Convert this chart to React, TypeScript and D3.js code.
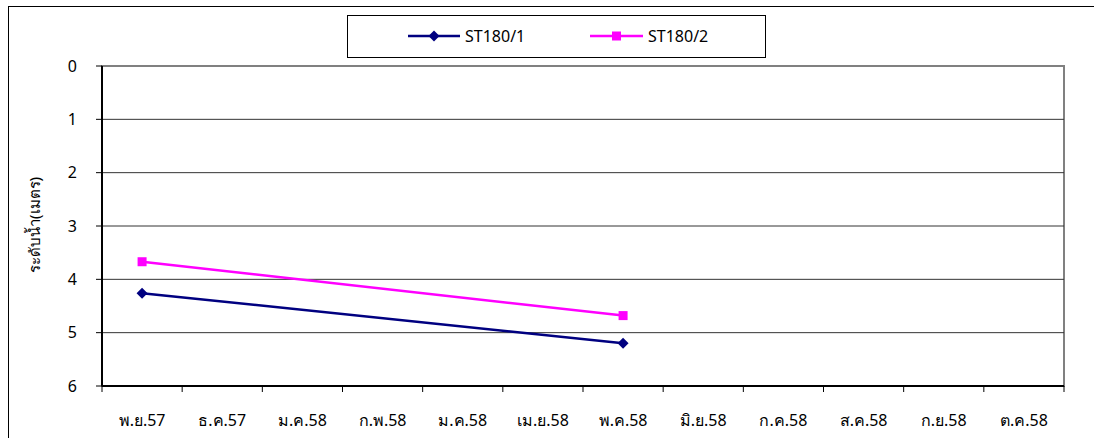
import React from "react";
import * as d3 from "d3";

const categories = ["พ.ย.57", "ธ.ค.57", "ม.ค.58", "ก.พ.58", "ม.ค.58", "เม.ย.58", "พ.ค.58", "มิ.ย.58", "ก.ค.58", "ส.ค.58", "ก.ย.58", "ต.ค.58"];
const yTicks = [0, 1, 2, 3, 4, 5, 6];
const seriesNames = ["ST180/1", "ST180/2"];
const st1801: (number | null)[] = [4.26, null, null, null, null, null, 5.2, null, null, null, null, null];
const st1802: (number | null)[] = [3.67, null, null, null, null, null, 4.68, null, null, null, null, null];
const yTitle = "ระดับน้ำ(เมตร)";

const W = 1094, H = 438;
const plot = { left: 102, top: 66, right: 1064, bottom: 386 };
const FONT = "Tahoma, 'Noto Sans', 'DejaVu Sans', sans-serif";
const DIAMOND = "M0,-5.5L5.5,0L0,5.5L-5.5,0Z";

export default function App() {
  const x = d3.scaleBand<string>().domain(categories.map((_, i) => String(i))).range([plot.left, plot.right]);
  const y = d3.scaleLinear().domain([0, 6]).range([plot.top, plot.bottom]);
  const cx = (i: number) => (x(String(i)) as number) + x.bandwidth() / 2;
  const line = d3.line<[number, number | null]>()
    .defined((d) => d[1] !== null)
    .x((d) => cx(d[0]))
    .y((d) => y(d[1] as number));
  const toPts = (arr: (number | null)[]) => arr.map((v, i) => [i, v] as [number, number | null]).filter((d) => d[1] !== null);
  const s1 = toPts(st1801);
  const s2 = toPts(st1802);
  const navy = "#000080";
  const pink = "#FF00FF";

  return (
    <svg width={W} height={H} style={{ position: "absolute", left: 0, top: 0 }} fontFamily={FONT}>
      <rect x={0} y={0} width={W} height={H} fill="#fff" />
      <rect x={8.5} y={6.5} width={1200} height={600} fill="none" stroke="#000" strokeWidth={1} />
      {/* plot border */}
      <rect x={plot.left} y={plot.top} width={plot.right - plot.left} height={plot.bottom - plot.top} fill="none" stroke="#808080" strokeWidth={2} />
      {/* gridlines */}
      {yTicks.slice(1, -1).map((t) => (
        <line key={t} x1={plot.left} x2={plot.right} y1={y(t)} y2={y(t)} stroke="#333" strokeWidth={1} />
      ))}
      {/* y axis */}
      <line x1={plot.left} x2={plot.left} y1={plot.top} y2={plot.bottom} stroke="#000" strokeWidth={2} />
      {yTicks.map((t) => (
        <g key={t}>
          <line x1={plot.left - 6} x2={plot.left} y1={y(t)} y2={y(t)} stroke="#000" strokeWidth={1} />
          <text x={77} y={y(t)} dy="0.35em" textAnchor="end" fontSize={16} fill="#000">{t}</text>
        </g>
      ))}
      {/* x axis */}
      <line x1={plot.left} x2={plot.right} y1={plot.bottom} y2={plot.bottom} stroke="#000" strokeWidth={2} />
      {categories.map((c, i) => (
        <g key={i}>
          <line x1={x(String(i)) as number} x2={x(String(i)) as number} y1={plot.bottom} y2={plot.bottom + 6} stroke="#000" />
          <text x={cx(i)} y={426} textAnchor="middle" fontSize={16} fill="#000">{c}</text>
        </g>
      ))}
      <line x1={plot.right} x2={plot.right} y1={plot.bottom} y2={plot.bottom + 6} stroke="#000" />
      {/* y title */}
      <text transform={`translate(40,225) rotate(-90)`} textAnchor="middle" fontSize={15} fill="#000">{yTitle}</text>
      {/* series */}
      <path d={line(s1) || ""} fill="none" stroke={navy} strokeWidth={2.5} />
      <path d={line(s2) || ""} fill="none" stroke={pink} strokeWidth={2.5} />
      {s1.map((d) => (
        <path key={d[0]} d={DIAMOND} transform={`translate(${cx(d[0])},${y(d[1] as number)})`} fill={navy} />
      ))}
      {s2.map((d) => (
        <rect key={d[0]} x={cx(d[0]) - 4.5} y={y(d[1] as number) - 4.5} width={9} height={9} fill={pink} />
      ))}
      {/* legend */}
      <rect x={347.5} y={15.5} width={418} height={42} fill="#fff" stroke="#000" />
      <line x1={408} x2={460} y1={36} y2={36} stroke={navy} strokeWidth={2.5} />
      <path d={DIAMOND} transform="translate(434,36)" fill={navy} />
      <text x={465} y={36} dy="0.35em" fontSize={16} fill="#000">{seriesNames[0]}</text>
      <line x1={590} x2={643} y1={36} y2={36} stroke={pink} strokeWidth={2.5} />
      <rect x={612} y={31.5} width={9} height={9} fill={pink} />
      <text x={648} y={36} dy="0.35em" fontSize={16} fill="#000">{seriesNames[1]}</text>
    </svg>
  );
}
